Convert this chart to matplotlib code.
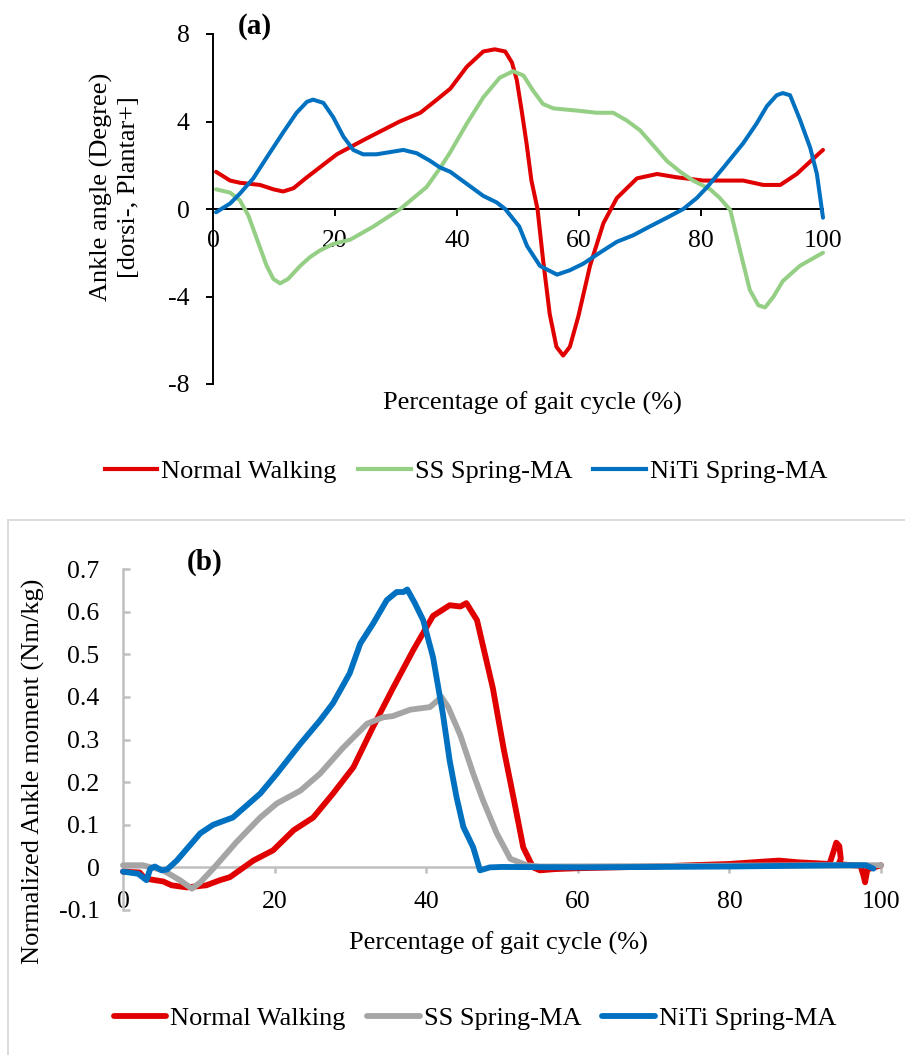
"""Ankle angle and ankle moment over the gait cycle, two stacked panels."""

import matplotlib

matplotlib.use("Agg")
from matplotlib import pyplot as plt
from matplotlib.lines import Line2D

plt.rcParams["font.family"] = ["Liberation Serif", "DejaVu Serif"]

W, H = 905, 1055

LABELS = ["Normal Walking", "SS Spring-MA", "NiTi Spring-MA"]
COLORS_A = ["#E00000", "#95CF85", "#0070C0"]
COLORS_B = ["#E00000", "#A5A5A5", "#0070C0"]

# ---- panel (a): ankle angle (deg) ----
normal_a_x = [0.5, 2.8, 4.4, 7.7, 9.9, 11.5, 13.2, 15.4, 17.5, 20.3, 25, 30.6,
              34, 36.7, 38.9, 41.6, 44.3, 46.2, 47.9, 49.0, 49.8, 50.6, 51.4,
              52.2, 53.2, 54.1, 55.2, 56.3, 57.4, 58.5, 59.9, 61.8, 64, 66.2,
              69.5, 72.8, 76, 80.4, 86.9, 90.2, 93, 95.7, 98.4, 100]
normal_a_y = [1.7, 1.3, 1.2, 1.1, 0.9, 0.8, 0.95, 1.45, 1.9, 2.5, 3.2, 4.0,
              4.4, 5.0, 5.5, 6.5, 7.2, 7.3, 7.2, 6.7, 5.9, 4.5, 3.0,
              1.3, 0.0, -2.3, -4.8, -6.3, -6.7, -6.3, -4.9, -2.6, -0.65, 0.5,
              1.4, 1.6, 1.45, 1.3, 1.3, 1.1, 1.1, 1.6, 2.3, 2.7]

ss_a_x = [0.5, 2.8, 4.4, 5.8, 7.1, 8.8, 9.9, 11, 12.3, 14.3, 15.9, 17.5, 19.7,
          22.5, 26.3, 30.7, 35, 37.2, 38.9, 41.6, 44.3, 47.0, 49.2, 50.9, 52.5,
          54.1, 55.8, 59.6, 62.9, 65.6, 67.8, 70, 72.2, 74.4, 76.6, 78.7, 81.5,
          83.1, 84.8, 86.4, 88, 89.4, 90.5, 91.9, 93.4, 96.2, 98.4, 100]
ss_a_y = [0.9, 0.75, 0.4, -0.3, -1.3, -2.6, -3.2, -3.4, -3.2, -2.6, -2.2, -1.9,
          -1.6, -1.4, -0.8, 0.0, 1.0, 1.86, 2.6, 3.9, 5.1, 6.0, 6.3, 6.1, 5.4,
          4.8, 4.6, 4.5, 4.4, 4.4, 4.05, 3.6, 2.9, 2.2, 1.7, 1.3, 0.9,
          0.5, -0.05, -1.9, -3.7, -4.4, -4.5, -4.0, -3.3, -2.6, -2.25, -2.0]

niti_a_x = [0.5, 2.8, 4.4, 6.6, 8.8, 11.5, 13.7, 15.4, 16.4, 18.1, 19.7, 21.4,
            23, 24.6, 26.8, 31.2, 33.4, 35.6, 37.2, 38.9, 41.6, 44.3, 46.5,
            47.9, 50.2, 51.5, 53.6, 56.4, 58.5, 60.7, 63.4, 66.2, 68.9, 71.6,
            74.4, 77.1, 79.3, 81, 83.7, 86.9, 89.1, 90.8, 92.4, 93.4, 94.6,
            96.2, 97.9, 99, 100]
niti_a_y = [-0.15, 0.25, 0.7, 1.4, 2.35, 3.5, 4.4, 4.9, 5.0, 4.85, 4.2, 3.3,
            2.7, 2.5, 2.5, 2.7, 2.55, 2.2, 1.9, 1.7, 1.15, 0.6, 0.3,
            0.0, -0.8, -1.7, -2.6, -3.0, -2.8, -2.5, -2.0, -1.5, -1.2, -0.8,
            -0.4, 0.0, 0.5, 1.0, 1.9, 3.0, 3.9, 4.7, 5.2, 5.3, 5.2,
            4.1, 2.8, 1.6, -0.4]

# ---- panel (b): normalized ankle moment (Nm/kg) ----
normal_b_x = [0, 2.2, 2.9, 4.2, 5.3, 6.4, 8.4, 11, 12.8, 14.1, 17.2, 19.8,
              22.5, 25.1, 27.7, 30.4, 33, 35.6, 38.3, 40.9, 43.1, 44.5, 45.3,
              46.7, 48.8, 50.2, 51.5, 52.8, 54.1, 55, 57, 60, 70, 80, 84, 86.5,
              89, 93.2, 93.7, 94.1, 94.5, 94.7, 94.4, 95.5, 97.3, 97.7, 97.9,
              98.2, 100]
normal_b_y = [-0.01, -0.012, -0.026, -0.03, -0.033, -0.042, -0.047, -0.042,
              -0.03, -0.023, 0.016, 0.04, 0.087, 0.117, 0.173, 0.235, 0.33,
              0.42, 0.51, 0.59, 0.615, 0.612, 0.62, 0.58, 0.42, 0.28, 0.165,
              0.047, 0.0, -0.007, -0.004, -0.002, 0.002, 0.008, 0.013, 0.016,
              0.012, 0.008, 0.035, 0.058, 0.05, 0.02, 0.008, 0.006, 0.004,
              -0.02, -0.035, -0.005, 0.005]

ss_b_x = [0, 2.6, 5.3, 7.5, 9.1, 10.2, 11.9, 15, 18.1, 20.3, 23.4, 26, 29,
          32.2, 34.3, 35.6, 37.9, 40.5, 41.4, 42, 42.9, 44.5, 46.2, 47.5, 49.3,
          51.1, 53.3, 55, 70, 90, 100]
ss_b_y = [0.005, 0.005, -0.007, -0.03, -0.05, -0.035, -0.003, 0.06, 0.117,
          0.15, 0.18, 0.22, 0.28, 0.337, 0.352, 0.355, 0.37, 0.376, 0.39, 0.40,
          0.376, 0.31, 0.22, 0.157, 0.08, 0.02, 0.005, 0.002, 0.003, 0.005,
          0.005]

niti_b_x = [0, 2, 3.1, 3.6, 4.2, 5.1, 5.8, 7.1, 10.2, 11.9, 14.5, 18.1, 20.3,
            23.4, 26, 27.7, 29.9, 31.3, 33, 34.8, 36.1, 37, 37.5, 38.5, 39.6,
            40.9, 42.2, 43.1, 44, 44.9, 46.2, 47.1, 48.4, 50, 60, 80, 95, 98,
            99]
niti_b_y = [-0.01, -0.015, -0.03, -0.003, 0.002, -0.007, -0.005, 0.016, 0.08,
            0.1, 0.117, 0.173, 0.22, 0.29, 0.345, 0.385, 0.455, 0.525, 0.572,
            0.627, 0.646, 0.646, 0.652, 0.62, 0.58, 0.493, 0.36, 0.25, 0.165,
            0.095, 0.047, -0.007, 0.0, 0.001, 0.0, 0.002, 0.005, 0.005, -0.003]

X_TICKS = [0, 20, 40, 60, 80, 100]
A_YTICKS = [-8, -4, 0, 4, 8]
B_YTICKS = [-0.1, 0, 0.1, 0.2, 0.3, 0.4, 0.5, 0.6, 0.7]


def fx(px):
    return px / W


def fy(py):
    return 1 - py / H


fig = plt.figure(figsize=(W / 100, H / 100), dpi=100)

# ---------------- panel (a) ----------------
ax_a = fig.add_axes([fx(213), fy(384), fx(823) - fx(213), fy(34) - fy(384)])
series_a = [(normal_a_x, normal_a_y), (ss_a_x, ss_a_y), (niti_a_x, niti_a_y)]
for (xs, ys), color in zip(series_a, COLORS_A):
    ax_a.plot(xs, ys, color=color, linewidth=2.9, zorder=3,
              solid_joinstyle="round", solid_capstyle="round", clip_on=False)
ax_a.set_xlim(0, 100)
ax_a.set_ylim(-8, 8)
ax_a.set_xticks(X_TICKS)
ax_a.set_yticks(A_YTICKS)
ax_a.set_yticklabels([str(v) for v in A_YTICKS])
for side in ("top", "right"):
    ax_a.spines[side].set_visible(False)
ax_a.spines["bottom"].set_position(("data", 0))
for side in ("left", "bottom"):
    ax_a.spines[side].set_linewidth(1.4)
    ax_a.spines[side].set_color("black")
ax_a.tick_params(axis="both", direction="out", length=5, width=1.4,
                 labelsize=18.5, color="black")
ax_a.tick_params(axis="x", pad=10)
ax_a.tick_params(axis="y", pad=12)
ax_a.set_facecolor("none")

fig.text(fx(255), fy(26), "(a)", fontsize=21, fontweight="bold",
         ha="center", va="center")
fig.text(fx(115), fy(187), "Ankle angle (Degree)\n[dorsi-, Plantar+]",
         rotation=90, fontsize=19, ha="center", va="center",
         multialignment="center", linespacing=1.25)
fig.text(fx(532), fy(403), "Percentage of gait cycle (%)", fontsize=19,
         ha="center", va="center")

handles_a = [Line2D([], [], color=c, linewidth=3.0) for c in COLORS_A]
fig.legend(handles_a, LABELS, loc="center", ncol=3, frameon=False,
           bbox_to_anchor=(fx(466), fy(471)), fontsize=19,
           handlelength=2.0, handletextpad=0.15, columnspacing=0.8)

# ---------------- panel (b) ----------------
# light grey chart-area border (top and left edges visible)
fig.add_artist(Line2D([fx(8), fx(910)], [fy(520), fy(520)],
                      color="#D9D9D9", linewidth=1.3))
fig.add_artist(Line2D([fx(8), fx(8)], [fy(520), fy(1060)],
                      color="#D9D9D9", linewidth=1.3))

ax_b = fig.add_axes([fx(123), fy(910), fx(881) - fx(123), fy(569) - fy(910)])
series_b = [(normal_b_x, normal_b_y), (ss_b_x, ss_b_y), (niti_b_x, niti_b_y)]
for (xs, ys), color in zip(series_b, COLORS_B):
    ax_b.plot(xs, ys, color=color, linewidth=4.2, zorder=3,
              solid_joinstyle="round", solid_capstyle="round", clip_on=False)
ax_b.set_xlim(0, 100)
ax_b.set_ylim(-0.1, 0.7)
ax_b.set_xticks(X_TICKS)
ax_b.set_yticks(B_YTICKS)
ax_b.set_yticklabels(["-0.1", "0", "0.1", "0.2", "0.3", "0.4", "0.5", "0.6", "0.7"])
for side in ("top", "right"):
    ax_b.spines[side].set_visible(False)
ax_b.spines["bottom"].set_position(("data", 0))
for side in ("left", "bottom"):
    ax_b.spines[side].set_linewidth(1.8)
    ax_b.spines[side].set_color("#BFBFBF")
ax_b.tick_params(axis="both", width=1.8, labelsize=18.5, color="#BFBFBF",
                 labelcolor="black")
ax_b.tick_params(axis="x", direction="out", length=4, pad=13)
ax_b.tick_params(axis="y", direction="in", length=5, pad=17)
ax_b.set_facecolor("none")

fig.text(fx(205), fy(562), "(b)", fontsize=21, fontweight="bold",
         ha="center", va="center")
fig.text(fx(33), fy(771), "Normalized Ankle moment (Nm/kg)", rotation=90,
         fontsize=19, ha="center", va="center")
fig.text(fx(498), fy(943), "Percentage of gait cycle (%)", fontsize=19,
         ha="center", va="center")

handles_b = [Line2D([], [], color=c, linewidth=4.2, solid_capstyle="round")
             for c in COLORS_B]
fig.legend(handles_b, LABELS, loc="center", ncol=3, frameon=False,
           bbox_to_anchor=(fx(475), fy(1018)), fontsize=19,
           handlelength=2.0, handletextpad=0.15, columnspacing=0.8)

fig.savefig("out.png", dpi=100, facecolor="white")
